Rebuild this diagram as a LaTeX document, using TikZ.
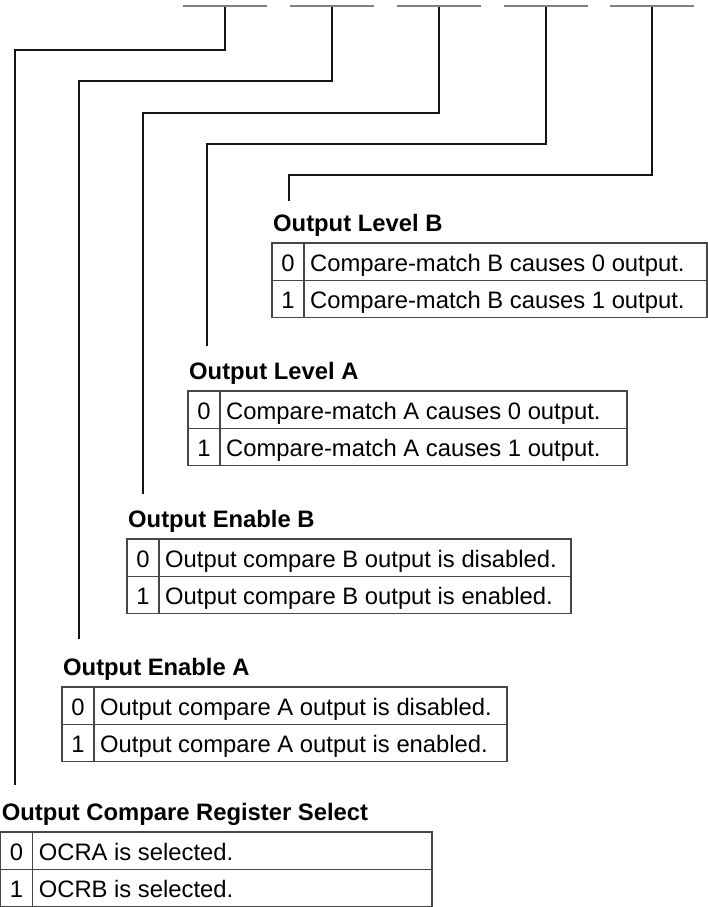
\documentclass[tikz,border=0pt]{standalone}
\usepackage{fontspec}
\setmainfont{Liberation Sans}
\definecolor{barcol}{RGB}{128,128,128}
\definecolor{tabcol}{RGB}{70,70,70}
\definecolor{wirecol}{RGB}{20,20,20}
\tikzset{
  bar/.style={fill=barcol, draw=none, minimum width=84pt, minimum height=2.4pt, inner sep=0pt},
  wire/.style={draw=wirecol, line width=1.1pt},
  tab/.style={draw=tabcol, line width=1.2pt},
  ttl/.style={font=\fontsize{23.8}{28}\selectfont\bfseries, anchor=base west, inner sep=0pt},
  cell/.style={font=\fontsize{23.8}{28}\selectfont, inner sep=0pt},
}
\newcommand\regtable[7]{%
  \node[ttl] (#1-title) at (#2+1,#3-12) {#5};
  \draw[tab] (#2,#3) rectangle (#4,#3+74.4);
  \draw[tab] (#2,#3+37.2) -- (#4,#3+37.2);
  \draw[tab] (#2+32,#3) -- (#2+32,#3+74.4);
  \node[cell, anchor=base] (#1-k0) at (#2+16,#3+28) {0};
  \node[cell, anchor=base west] (#1-v0) at (#2+38,#3+28) {#6};
  \node[cell, anchor=base] (#1-k1) at (#2+16,#3+65.2) {1};
  \node[cell, anchor=base west] (#1-v1) at (#2+38,#3+65.2) {#7};
}
\begin{document}
\begin{tikzpicture}[x=1pt, y=-1pt]
  \useasboundingbox (0,0) rectangle (708,907);
  % bit bars
  \node[bar] (b1) at (225,6) {};
  \node[bar] (b2) at (332,6) {};
  \node[bar] (b3) at (439,6) {};
  \node[bar] (b4) at (546,6) {};
  \node[bar] (b5) at (652,6) {};
  % corners and free ends
  \coordinate (c1) at (15,50);   \coordinate (e1) at (15,785);
  \coordinate (c2) at (79,81);   \coordinate (e2) at (79,639);
  \coordinate (c3) at (143,113); \coordinate (e3) at (143,494);
  \coordinate (c4) at (207,144); \coordinate (e4) at (207,346);
  \coordinate (c5) at (289,175); \coordinate (e5) at (289,201);
  \draw[wire] (b1.center) |- (c1) -- (e1);
  \draw[wire] (b2.center) |- (c2) -- (e2);
  \draw[wire] (b3.center) |- (c3) -- (e3);
  \draw[wire] (b4.center) |- (c4) -- (e4);
  \draw[wire] (b5.center) |- (c5) -- (e5);
  % redraw bars on top of the wire ends
  \fill[barcol] (b1.north west) rectangle (b1.south east);
  \fill[barcol] (b2.north west) rectangle (b2.south east);
  \fill[barcol] (b3.north west) rectangle (b3.south east);
  \fill[barcol] (b4.north west) rectangle (b4.south east);
  \fill[barcol] (b5.north west) rectangle (b5.south east);
  % tables
  \regtable{olb}{272}{243}{707}{Output Level B}{Compare-match B causes 0 output.}{Compare-match B causes 1 output.}
  \regtable{ola}{188}{391}{627}{Output Level A}{Compare-match A causes 0 output.}{Compare-match A causes 1 output.}
  \regtable{oeb}{127}{539}{571}{Output Enable B}{Output compare B output is disabled.}{Output compare B output is enabled.}
  \regtable{oea}{62}{687}{507}{Output Enable A}{Output compare A output is disabled.}{Output compare A output is enabled.}
  \regtable{ors}{0.6}{832}{432}{Output Compare Register Select}{OCRA is selected.}{OCRB is selected.}
\end{tikzpicture}
\end{document}
